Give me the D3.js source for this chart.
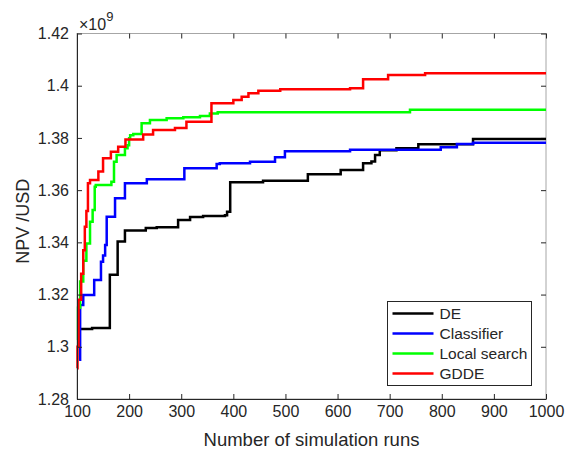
<!DOCTYPE html>
<html>
<head>
<meta charset="utf-8">
<script src="https://cdn.jsdelivr.net/npm/d3@7"></script>
<style>
  body { margin: 0; background: #fff; }
  svg text { font-family: "Liberation Sans", Arial, Helvetica, sans-serif; fill: #262626; }
</style>
</head>
<body>
<div id="chart"></div>
<script>
// tick labels
const xTicks = [100, 200, 300, 400, 500, 600, 700, 800, 900, 1000];
const yTicks = [1.28, 1.3, 1.32, 1.34, 1.36, 1.38, 1.4, 1.42];
const yTickLabels = ['1.28', '1.3', '1.32', '1.34', '1.36', '1.38', '1.4', '1.42'];

// series names / colours (plot order, GDDE ends up on top)
const seriesNames = ['DE', 'Classifier', 'Local search', 'GDDE'];
const seriesColors = ['#000000', '#0000ff', '#00ff00', '#ff0000'];

const deRuns = [104, 129, 163, 178, 192, 232, 253, 294, 317, 342, 384, 388, 394, 457, 543, 606, 649, 665, 672, 681, 713, 755, 860, 1000];
const deNpv = [1.3068, 1.3072, 1.3276, 1.3403, 1.3445, 1.3455, 1.3458, 1.3486, 1.3497, 1.3501, 1.3504, 1.3517, 1.363, 1.3636, 1.3661, 1.3677, 1.3703, 1.371, 1.3735, 1.3753, 1.376, 1.3776, 1.3796, 1.3796];

const clsRuns = [104, 106, 112, 133, 146, 150, 154, 157, 173, 192, 234, 306, 368, 374, 432, 480, 499, 624, 798, 829, 860, 1000];
const clsNpv = [1.295, 1.316, 1.3198, 1.3256, 1.3326, 1.335, 1.339, 1.3498, 1.3569, 1.3626, 1.3642, 1.3684, 1.370, 1.3703, 1.3709, 1.3726, 1.3749, 1.3755, 1.3764, 1.3777, 1.3782, 1.3782];

const lsRuns = [100, 102, 106, 112, 118, 125, 130, 134, 136, 166, 171, 176, 192, 197, 200, 202, 208, 224, 240, 272, 304, 336, 355, 370, 739, 1000];
const lsNpv = [1.3026, 1.315, 1.325, 1.333, 1.3396, 1.3479, 1.3524, 1.3613, 1.362, 1.3632, 1.3709, 1.3735, 1.376, 1.3772, 1.3799, 1.381, 1.3815, 1.3856, 1.3869, 1.3875, 1.3879, 1.3884, 1.3894, 1.3898, 1.3908, 1.3908];

const gddeRuns = [100, 101, 103, 108, 112, 115, 118, 121, 125, 141, 150, 165, 179, 193, 227, 246, 288, 310, 358, 400, 416, 429, 448, 490, 624, 649, 697, 768, 1000];
const gddeNpv = [1.2918, 1.30, 1.318, 1.328, 1.337, 1.346, 1.352, 1.3626, 1.3639, 1.3671, 1.3722, 1.3747, 1.3766, 1.3794, 1.3813, 1.383, 1.3838, 1.3862, 1.3933, 1.3945, 1.3958, 1.3971, 1.3981, 1.3986, 1.399, 1.4025, 1.4041, 1.4048, 1.4048];

const seriesRuns = [deRuns, clsRuns, lsRuns, gddeRuns];
const seriesNpv = [deNpv, clsNpv, lsNpv, gddeNpv];

const svgwidth = 566;
const svgheight = 456;
const margin = { left: 77, right: 20, top: 33.5, bottom: 57 };

const svg = d3.select('#chart').append('svg')
  .attr('width', svgwidth)
  .attr('height', svgheight);

const x = d3.scaleLinear()
  .domain([100, 1000])
  .range([margin.left, svgwidth - margin.right]);
const y = d3.scaleLinear()
  .domain([1.28, 1.42])
  .range([svgheight - margin.bottom, margin.top]);

// box: top and right in light grey
svg.append('rect')
  .attr('x', x(100))
  .attr('y', y(1.42))
  .attr('width', x(1000) - x(100))
  .attr('height', y(1.28) - y(1.42))
  .attr('fill', 'none')
  .attr('stroke', '#a6a6a6')
  .attr('stroke-width', 1);

// top / right ticks, no labels
svg.append('g')
  .attr('transform', `translate(0,${y(1.42)})`)
  .call(d3.axisTop(x).tickValues(xTicks).tickSizeInner(-5).tickSizeOuter(0).tickFormat(''))
  .call(g => g.select('.domain').remove())
  .selectAll('line').attr('stroke', '#262626');
svg.append('g')
  .attr('transform', `translate(${x(1000)},0)`)
  .call(d3.axisRight(y).tickValues(yTicks).tickSizeInner(-5).tickSizeOuter(0).tickFormat(''))
  .call(g => g.select('.domain').remove())
  .selectAll('line').attr('stroke', '#262626');

// the lines
const line = d3.line()
  .curve(d3.curveStepAfter);
seriesNames.forEach((name, i) => {
  const pts = seriesRuns[i].map((r, j) => [x(r), y(seriesNpv[i][j])]);
  svg.append('path')
    .attr('d', line(pts))
    .attr('fill', 'none')
    .attr('stroke', seriesColors[i])
    .attr('stroke-width', 2.5);
});

// bottom axis
const xAxis = svg.append('g')
  .attr('transform', `translate(0,${y(1.28)})`)
  .call(d3.axisBottom(x).tickValues(xTicks).tickSizeInner(-5).tickSizeOuter(0).tickPadding(7).tickFormat(d => String(d)));
// left axis
const yAxis = svg.append('g')
  .attr('transform', `translate(${x(100)},0)`)
  .call(d3.axisLeft(y).tickValues(yTicks).tickSizeInner(-5).tickSizeOuter(0).tickPadding(8).tickFormat((d, i) => yTickLabels[i]));
[xAxis, yAxis].forEach(g => {
  g.select('.domain').attr('stroke', '#262626');
  g.selectAll('.tick line').attr('stroke', '#262626');
  g.selectAll('text')
    .attr('font-size', '16px')
    .attr('font-family', '"Liberation Sans", Arial, sans-serif')
    .attr('fill', '#262626');
});

// exponent
const expo = svg.append('text')
  .attr('x', x(100) + 2)
  .attr('y', 30)
  .attr('font-size', '16px');
expo.append('tspan').text('×10');
expo.append('tspan').attr('font-size', '13px').attr('dy', -9).text('9');

// axis titles
svg.append('text')
  .attr('x', (x(100) + x(1000)) / 2)
  .attr('y', 446)
  .attr('text-anchor', 'middle')
  .attr('font-size', '18.5px')
  .text('Number of simulation runs');
svg.append('text')
  .attr('transform', `translate(29,${(y(1.28) + y(1.42)) / 2 + 5}) rotate(-90)`)
  .attr('text-anchor', 'middle')
  .attr('font-size', '18px')
  .text('NPV /USD');

// legend
const legend = svg.append('g').attr('transform', 'translate(387.5,301.5)');
legend.append('rect')
  .attr('width', 144)
  .attr('height', 84)
  .attr('fill', '#fff')
  .attr('stroke', '#262626')
  .attr('stroke-width', 1);
seriesNames.forEach((name, i) => {
  const ly = 12 + i * 20;
  legend.append('line')
    .attr('x1', 5).attr('x2', 46)
    .attr('y1', ly).attr('y2', ly)
    .attr('stroke', seriesColors[i])
    .attr('stroke-width', 2.5);
  legend.append('text')
    .attr('x', 52)
    .attr('y', ly + 5.5)
    .attr('font-size', '15.5px')
    .text(name);
});
</script>
</body>
</html>
